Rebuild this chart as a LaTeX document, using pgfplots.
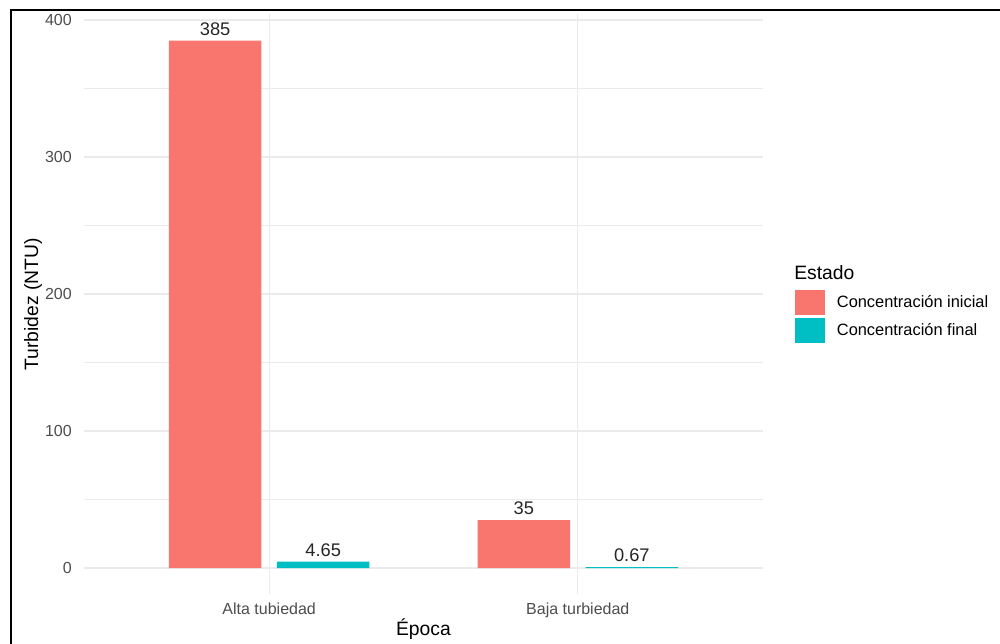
\documentclass[border=0pt]{standalone}
\usepackage{pgfplots}
\pgfplotsset{compat=1.18}
\usepackage{fontspec}
\setmainfont{Liberation Sans}
\definecolor{cred}{HTML}{F8766D}
\definecolor{cteal}{HTML}{00BFC4}
\definecolor{gridc}{HTML}{EBEBEB}
\definecolor{tickc}{HTML}{4D4D4D}
\begin{document}
\begin{tikzpicture}
\begin{axis}[
 at={(63pt,36.45pt)}, anchor=south west, scale only axis,
 width=509.25pt, height=435.15pt,
 xmin=0.4, xmax=2.6, ymin=-19.25, ymax=404.25,
 axis line style={draw=none}, tick style={draw=none}, major tick length=0pt, minor tick length=0pt,
 xtick={1,2}, xticklabels={Alta tubiedad, Baja turbiedad},
 ytick={0,100,200,300,400}, minor ytick={50,150,250,350},
 ymajorgrids, xmajorgrids, yminorgrids,
 major grid style={gridc, line width=0.8pt},
 minor grid style={gridc, line width=0.45pt},
 /pgf/number format/assume math mode=true,
 ticklabel style={font=\fontsize{12}{14}\selectfont, text=tickc, inner sep=0pt},
 yticklabel style={anchor=east, xshift=-9pt},
 xticklabel style={anchor=north, yshift=-6.5pt},
 xlabel={Época}, ylabel={Turbidez (NTU)},
 label style={font=\fontsize{14.5}{17}\selectfont, text=black},
 xlabel style={at={(axis description cs:0.5,-0.0596)}, anchor=center},
 ylabel style={at={(axis description cs:-0.0751,0.5)}, anchor=center},
 ybar, bar width=0.3,
 nodes near coords,
 nodes near coords style={font=\fontsize{13.7}{16}\selectfont, text=black!85, anchor=south, inner sep=0pt, yshift=3.75pt},
 legend style={at={(axis description cs:1.0471,0.5246)}, anchor=north west, draw=none, fill=none, inner sep=0pt, row sep=2.25pt, font=\fontsize{12.3}{14}\selectfont},
 legend cell align=left,
]
\addplot[fill=cred, draw=none, bar shift=-0.175,
  legend image code/.code={\fill[cred] (0pt,-9.375pt) rectangle (22.5pt,9.375pt); \path (29.25pt,0pt);}]
  coordinates {(1,385) (2,35)};
\addlegendentry{Concentración inicial}
\addplot[fill=cteal, draw=none, bar shift=0.175,
  legend image code/.code={\fill[cteal] (0pt,-9.375pt) rectangle (22.5pt,9.375pt); \path (29.25pt,0pt);}]
  coordinates {(1,4.65) (2,0.67)};
\addlegendentry{Concentración final}
\end{axis}
\node[anchor=west, font=\fontsize{14.5}{17}\selectfont, inner sep=0pt] at (595.5pt,277.9pt) {Estado};
\draw[black, line width=1.5pt] (7.9pt,-2pt) -- (7.9pt,474.75pt) -- (752pt,474.75pt);
\pgfresetboundingbox
\path (0,0) rectangle (750pt,482.25pt);
\end{tikzpicture}
\end{document}
